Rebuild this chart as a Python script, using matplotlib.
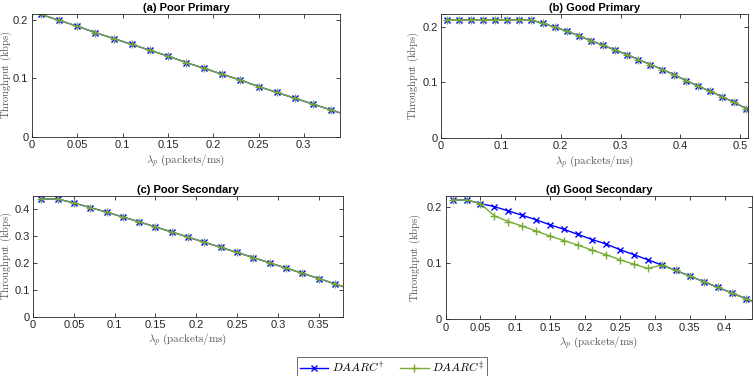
import matplotlib
matplotlib.use("Agg")
import matplotlib.pyplot as plt
import numpy as np

plt.rcParams['mathtext.fontset'] = 'cm'
plt.rcParams['font.family'] = ['Liberation Sans', 'DejaVu Sans']

# (a) Poor Primary
xa = [0.01, 0.03, 0.05, 0.07, 0.09, 0.11, 0.13, 0.15, 0.17, 0.19, 0.21, 0.23, 0.25, 0.27, 0.29, 0.31, 0.33, 0.35]
ya_dag = [0.209, 0.199, 0.189, 0.178, 0.168, 0.158, 0.148, 0.138, 0.127, 0.117, 0.107, 0.097, 0.086, 0.076, 0.066, 0.056, 0.046, 0.036]
ya_ddag = [0.209, 0.199, 0.189, 0.178, 0.168, 0.158, 0.148, 0.138, 0.127, 0.117, 0.107, 0.097, 0.086, 0.076, 0.066, 0.056, 0.046, 0.036]

# (b) Good Primary
xb = [0.01, 0.03, 0.05, 0.07, 0.09, 0.11, 0.13, 0.15, 0.17, 0.19, 0.21, 0.23, 0.25, 0.27, 0.29, 0.31, 0.33, 0.35, 0.37, 0.39, 0.41, 0.43, 0.45, 0.47, 0.49, 0.51]
yb_dag = [0.2125, 0.2125, 0.2125, 0.2125, 0.2125, 0.2125, 0.2125, 0.2125, 0.206, 0.1995, 0.192, 0.184, 0.175, 0.167, 0.1585, 0.150, 0.141, 0.132, 0.123, 0.1135, 0.103, 0.093, 0.084, 0.074, 0.064, 0.053]
yb_ddag = [0.2125, 0.2125, 0.2125, 0.2125, 0.2125, 0.2125, 0.2125, 0.2125, 0.206, 0.1995, 0.192, 0.184, 0.175, 0.167, 0.1585, 0.150, 0.141, 0.132, 0.123, 0.1135, 0.103, 0.093, 0.084, 0.074, 0.064, 0.053]

# (c) Poor Secondary
xc = [0.01, 0.03, 0.05, 0.07, 0.09, 0.11, 0.13, 0.15, 0.17, 0.19, 0.21, 0.23, 0.25, 0.27, 0.29, 0.31, 0.33, 0.35, 0.37, 0.39]
yc_dag = [0.438, 0.438, 0.423, 0.406, 0.389, 0.371, 0.353, 0.334, 0.315, 0.296, 0.277, 0.258, 0.239, 0.220, 0.200, 0.181, 0.162, 0.142, 0.122, 0.102]
yc_ddag = [0.438, 0.438, 0.423, 0.406, 0.389, 0.371, 0.353, 0.334, 0.315, 0.296, 0.277, 0.258, 0.239, 0.220, 0.200, 0.181, 0.162, 0.142, 0.122, 0.102]

# (d) Good Secondary
xd = [0.01, 0.03, 0.05, 0.07, 0.09, 0.11, 0.13, 0.15, 0.17, 0.19, 0.21, 0.23, 0.25, 0.27, 0.29, 0.31, 0.33, 0.35, 0.37, 0.39, 0.41, 0.43, 0.45]
yd_dag = [0.2125, 0.2125, 0.206, 0.2005, 0.193, 0.185, 0.177, 0.168, 0.160, 0.151, 0.142, 0.134, 0.124, 0.115, 0.106, 0.0965, 0.087, 0.077, 0.067, 0.057, 0.047, 0.037, 0.027]
yd_ddag = [0.2125, 0.2125, 0.206, 0.184, 0.174, 0.166, 0.157, 0.148, 0.140, 0.132, 0.123, 0.115, 0.106, 0.098, 0.0905, 0.0965, 0.087, 0.077, 0.067, 0.057, 0.047, 0.037, 0.027]

titles = ['(a) Poor Primary', '(b) Good Primary', '(c) Poor Secondary', '(d) Good Secondary']
labels = [r'$DAARC^{\dagger}$', r'$DAARC^{\ddagger}$']

BLUE = '#0000ff'
GREEN = '#77ac30'

fig = plt.figure(figsize=(7.54, 3.76), dpi=100)

rects = [
    [0.0424, 0.636, 0.451 - 0.0424, 0.963 - 0.636],
    [0.585, 0.633, 0.992 - 0.585, 0.963 - 0.633],
    [0.0439, 0.1577, 0.455 - 0.0439, 0.4795 - 0.1577],
    [0.591, 0.1508, 0.998 - 0.591, 0.4795 - 0.1508],
]
ylabel_x = [-0.058, -0.066, -0.062, -0.074]
data = [
    (xa, ya_dag, ya_ddag, (0, 0.34), (0, 0.21), [0, 0.05, 0.1, 0.15, 0.2, 0.25, 0.3], ['0', '0.05', '0.1', '0.15', '0.2', '0.25', '0.3'], [0, 0.1, 0.2], ['0', '0.1', '0.2']),
    (xb, yb_dag, yb_ddag, (0, 0.513), (0, 0.223), [0, 0.1, 0.2, 0.3, 0.4, 0.5], ['0', '0.1', '0.2', '0.3', '0.4', '0.5'], [0, 0.1, 0.2], ['0', '0.1', '0.2']),
    (xc, yc_dag, yc_ddag, (0, 0.38), (0, 0.45), [0, 0.05, 0.1, 0.15, 0.2, 0.25, 0.3, 0.35], ['0', '0.05', '0.1', '0.15', '0.2', '0.25', '0.3', '0.35'], [0, 0.1, 0.2, 0.3, 0.4], ['0', '0.1', '0.2', '0.3', '0.4']),
    (xd, yd_dag, yd_ddag, (0, 0.44), (0, 0.22), [0, 0.05, 0.1, 0.15, 0.2, 0.25, 0.3, 0.35, 0.4], ['0', '0.05', '0.1', '0.15', '0.2', '0.25', '0.3', '0.35', '0.4'], [0, 0.1, 0.2], ['0', '0.1', '0.2']),
]

handles = None
for rect, (x, y1, y2, xl, yl, xt, xtl, yt, ytl), title, lx in zip(rects, data, titles, ylabel_x):
    ax = fig.add_axes(rect)
    h1, = ax.plot(x, y1, color=BLUE, marker='x', markersize=5, linewidth=1.0, markeredgewidth=1.0, label=labels[0])
    h2, = ax.plot(x, y2, color=GREEN, marker='+', markersize=6, linewidth=1.0, markeredgewidth=1.0, label=labels[1])
    handles = [h1, h2]
    ax.set_xlim(*xl)
    ax.set_ylim(*yl)
    ax.set_xticks(xt)
    ax.set_xticklabels(xtl)
    ax.set_yticks(yt)
    ax.set_yticklabels(ytl)
    ax.tick_params(direction='in', length=3, width=0.6, labelsize=8, top=True, right=True, colors='#262626', pad=2.5)
    for s in ax.spines.values():
        s.set_linewidth(0.6)
        s.set_color('#262626')
    ax.set_title(title, fontsize=8, fontweight='bold', pad=2)
    ax.set_xlabel(r'$\lambda_p\ \mathrm{(packets/ms)}$', fontsize=8, color='#555555', labelpad=1)
    ax.set_ylabel(r'$\mathrm{Throughput\ (kbps)}$', fontsize=7.5, color='#555555')
    ax.yaxis.set_label_coords(lx, 0.5)

leg = fig.legend(handles, labels, loc='lower center', bbox_to_anchor=(0.52, -0.02), ncol=2,
                 fontsize=8.5, frameon=True, fancybox=False, edgecolor='#262626',
                 handlelength=2.4, columnspacing=1.4, handletextpad=0.3, borderpad=0.25)
leg.get_frame().set_linewidth(0.6)

fig.savefig('out.png', dpi=100)
